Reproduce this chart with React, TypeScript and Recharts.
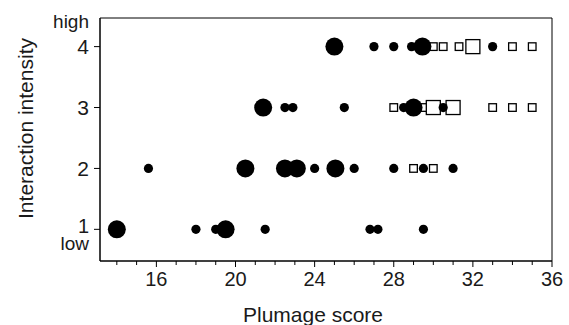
import React from "react";
import {
  ScatterChart,
  Scatter,
  XAxis,
  YAxis,
  ReferenceArea,
} from "recharts";

// Data
const smallCircles = [
  { x: 27, y: 4 }, { x: 28, y: 4 }, { x: 28.9, y: 4 }, { x: 33, y: 4 },
  { x: 22.5, y: 3 }, { x: 22.9, y: 3 }, { x: 25.5, y: 3 }, { x: 28.5, y: 3 }, { x: 30.5, y: 3 },
  { x: 15.6, y: 2 }, { x: 24, y: 2 }, { x: 26, y: 2 }, { x: 28, y: 2 }, { x: 29.5, y: 2 }, { x: 31, y: 2 },
  { x: 18, y: 1 }, { x: 19, y: 1 }, { x: 21.5, y: 1 }, { x: 26.8, y: 1 }, { x: 27.2, y: 1 }, { x: 29.5, y: 1 },
];

const bigCircles = [
  { x: 25, y: 4 }, { x: 29.45, y: 4 },
  { x: 21.4, y: 3 }, { x: 29, y: 3 },
  { x: 20.5, y: 2 }, { x: 22.5, y: 2 }, { x: 23.1, y: 2 }, { x: 25.05, y: 2 },
  { x: 14, y: 1 }, { x: 19.5, y: 1 },
];

const smallSquares = [
  { x: 30, y: 4 }, { x: 30.5, y: 4 }, { x: 31.3, y: 4 }, { x: 34, y: 4 }, { x: 35, y: 4 },
  { x: 28, y: 3 }, { x: 29.5, y: 3 }, { x: 33, y: 3 }, { x: 34, y: 3 }, { x: 35, y: 3 },
  { x: 29, y: 2 }, { x: 30, y: 2 },
];

const bigSquares = [
  { x: 32, y: 4 },
  { x: 30, y: 3 }, { x: 31, y: 3 },
];

const xTicks = [14, 15, 16, 17, 18, 19, 20, 21, 22, 23, 24, 25, 26, 27, 28, 29, 30, 31, 32, 33, 34, 35, 36];
const xLabeledTicks = [16, 20, 24, 28, 32, 36];
const yTicks = [1, 2, 3, 4];
const yHighPos = 4.42;
const yLowPos = 0.78;
const yEndLabels: Record<string, string> = { "4.42": "high", "0.78": "low" };

const xDomain: [number, number] = [13.15, 36];
const yDomain: [number, number] = [0.48, 4.47];

const FONT = "'Liberation Sans', Arial, Helvetica, sans-serif";
const TEXT = "#1a1a1a";

const XTick = (props: any) => {
  const { x, y, payload } = props;
  const v = payload.value;
  const labeled = xLabeledTicks.includes(v);
  return (
    <g>
      <line x1={x} x2={x} y1={y} y2={y + (labeled ? 6 : 4)} stroke="#000" strokeWidth={1} />
      {labeled && (
        <text x={x} y={y + 25} textAnchor="middle" fontSize={20} fontFamily={FONT} fill={TEXT}>
          {v}
        </text>
      )}
    </g>
  );
};

const YTick = (props: any) => {
  const { x, y, payload } = props;
  const v = payload.value;
  const end = yEndLabels[String(v)];
  if (end) {
    return (
      <text x={x - 11} y={y} dy="0.36em" textAnchor="end" fontSize={19} fontFamily={FONT} fill={TEXT}>
        {end}
      </text>
    );
  }
  const shift = v === 1 ? -4 : 0;
  return (
    <g>
      <line x1={x} x2={x - 6} y1={y} y2={y} stroke="#000" strokeWidth={1} />
      <text x={x - 11} y={y + shift} dy="0.36em" textAnchor="end" fontSize={v === 1 ? 20 : 21} fontFamily={FONT} fill={TEXT}>
        {v}
      </text>
    </g>
  );
};

const SmallCircle = (props: any) => {
  const { cx, cy } = props;
  return <circle cx={cx} cy={cy} r={4.6} fill="#000" />;
};
const BigCircle = (props: any) => {
  const { cx, cy } = props;
  return <circle cx={cx} cy={cy} r={9} fill="#000" />;
};
const SmallSquare = (props: any) => {
  const { cx, cy } = props;
  const s = 7.6;
  return <rect x={cx - s / 2} y={cy - s / 2} width={s} height={s} fill="#fff" stroke="#000" strokeWidth={1.3} />;
};
const BigSquare = (props: any) => {
  const { cx, cy } = props;
  const s = 14;
  return <rect x={cx - s / 2} y={cy - s / 2} width={s} height={s} fill="#fff" stroke="#000" strokeWidth={1.3} />;
};

const YLabel = (props: any) => {
  const vb = props.viewBox || { x: 0, y: 18, width: 100, height: 243 };
  const cx = vb.x + 33;
  const cy = vb.y + vb.height / 2 - 11;
  return (
    <text
      x={cx}
      y={cy}
      transform={`rotate(-90, ${cx}, ${cy})`}
      textAnchor="middle"
      fontSize={21}
      fontFamily={FONT}
      fill={TEXT}
    >
      Interaction intensity
    </text>
  );
};

const XLabel = (props: any) => {
  const vb = props.viewBox || { x: 100, y: 261, width: 452, height: 64 };
  const cx = vb.x + vb.width / 2 - 13;
  const cy = vb.y + 60.5;
  return (
    <text x={cx} y={cy} textAnchor="middle" fontSize={21} fontFamily={FONT} fill={TEXT}>
      Plumage score
    </text>
  );
};

export default function App() {
  return (
    <div style={{ position: "absolute", left: 0, top: 0, width: 569, height: 325, background: "#fff" }}>
      <ScatterChart width={569} height={325} margin={{ top: 18, right: 17, left: 0, bottom: 0 }}>
        <XAxis
          type="number"
          dataKey="x"
          domain={xDomain}
          ticks={xTicks}
          allowDataOverflow
          height={64}
          tickSize={0}
          tickMargin={0}
          tickLine={false}
          axisLine={{ stroke: "#000", strokeWidth: 1 }}
          tick={<XTick />}
          interval={0}
          label={<XLabel />}
        />
        <YAxis
          type="number"
          dataKey="y"
          domain={yDomain}
          ticks={[yLowPos, ...yTicks, yHighPos]}
          allowDataOverflow
          width={100}
          tickSize={0}
          tickMargin={0}
          tickLine={false}
          axisLine={{ stroke: "#000", strokeWidth: 1 }}
          tick={<YTick />}
          interval={0}
          label={<YLabel />}
        />
        <ReferenceArea
          x1={xDomain[0]}
          x2={xDomain[1]}
          y1={yDomain[0]}
          y2={yDomain[1]}
          fill="none"
          fillOpacity={0}
          stroke="#000"
          strokeWidth={1}
          ifOverflow="visible"
        />
        <Scatter data={smallSquares} shape={<SmallSquare />} isAnimationActive={false} />
        <Scatter data={bigSquares} shape={<BigSquare />} isAnimationActive={false} />
        <Scatter data={smallCircles} shape={<SmallCircle />} isAnimationActive={false} />
        <Scatter data={bigCircles} shape={<BigCircle />} isAnimationActive={false} />
      </ScatterChart>
    </div>
  );
}
